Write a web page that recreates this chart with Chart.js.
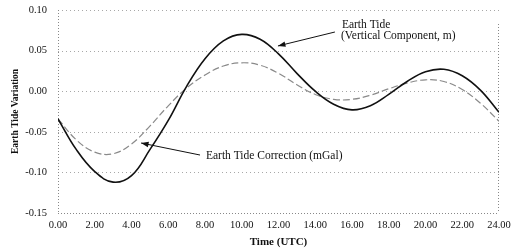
<!DOCTYPE html>
<html>
<head>
<meta charset="utf-8">
<script src="https://cdn.jsdelivr.net/npm/chart.js@4/dist/chart.umd.min.js"></script>
<style>
  html, body { margin: 0; padding: 0; background: #fff; }
  #wrap { width: 518px; height: 249px; position: relative; }
</style>
</head>
<body>
<div id="wrap"><canvas id="c" width="518" height="249"></canvas></div>
<script>
// Time (UTC) in hours
const hours = [0,1,2,3,4,5,6,7,8,9,10,11,12,13,14,15,16,17,18,19,20,21,22,23,24];
// Earth Tide (Vertical Component, m)
const earthTide = [-0.034,-0.072,-0.099,-0.112,-0.104,-0.072,-0.036,0.006,0.040,0.062,0.070,0.064,0.046,0.022,0.000,-0.016,-0.023,-0.018,-0.004,0.012,0.024,0.027,0.019,0.001,-0.026];
// Earth Tide Correction (mGal)
const tideCorrection = [-0.034,-0.060,-0.075,-0.077,-0.065,-0.043,-0.018,0.004,0.020,0.031,0.035,0.032,0.022,0.008,-0.004,-0.010,-0.010,-0.005,0.003,0.010,0.014,0.012,0.002,-0.015,-0.037];
// Axis ticks
const xTicks = [0,2,4,6,8,10,12,14,16,18,20,22,24];
const yTicks = [-0.15,-0.10,-0.05,0.00,0.05,0.10];
// Annotation texts
const labelTide = ["Earth Tide", "(Vertical Component, m)"];
const labelCorr = "Earth Tide Correction (mGal)";

const toXY = (xs, ys) => xs.map((x, i) => ({x: x, y: ys[i]}));
const fmt = v => (Math.abs(v) < 1e-9 ? 0 : v).toFixed(2);

const frame = {
  id: 'frame',
  beforeDatasetsDraw(chart) {
    const {ctx, chartArea: a, scales: {y}} = chart;
    ctx.save();
    ctx.lineWidth = 1;
    // dotted horizontal grid lines
    ctx.strokeStyle = '#a8a8a8';
    ctx.setLineDash([1, 3]);
    ctx.beginPath();
    yTicks.forEach(v => {
      if (v === yTicks[0]) return;
      const py = Math.round(y.getPixelForValue(v)) + 0.5;
      ctx.moveTo(a.left, py); ctx.lineTo(a.right, py);
    });
    ctx.stroke();
    // plot frame
    ctx.strokeStyle = '#888';
    ctx.setLineDash([1, 2]);
    ctx.beginPath();
    ctx.moveTo(a.left + 0.5, a.top); ctx.lineTo(a.left + 0.5, a.bottom);
    ctx.moveTo(a.left, Math.round(a.bottom) + 0.5); ctx.lineTo(a.right, Math.round(a.bottom) + 0.5);
    ctx.moveTo(a.right - 0.5, a.top + 14); ctx.lineTo(a.right - 0.5, a.bottom);
    ctx.stroke();
    ctx.restore();
  }
};

function arrow(ctx, x1, y1, x2, y2) {
  ctx.beginPath();
  ctx.moveTo(x1, y1); ctx.lineTo(x2, y2); ctx.stroke();
  const ang = Math.atan2(y2 - y1, x2 - x1);
  const L = 8, W = 0.35;
  ctx.beginPath();
  ctx.moveTo(x2, y2);
  ctx.lineTo(x2 - L * Math.cos(ang - W), y2 - L * Math.sin(ang - W));
  ctx.lineTo(x2 - L * Math.cos(ang + W), y2 - L * Math.sin(ang + W));
  ctx.closePath();
  ctx.fill();
}

const notes = {
  id: 'notes',
  afterDatasetsDraw(chart) {
    const {ctx, scales: {x, y}} = chart;
    const px = v => x.getPixelForValue(v);
    const py = v => y.getPixelForValue(v);
    ctx.save();
    ctx.fillStyle = '#111';
    ctx.strokeStyle = '#111';
    ctx.lineWidth = 1;
    ctx.font = '11.5px "Liberation Serif", "Times New Roman", serif';
    ctx.textBaseline = 'middle';
    ctx.textAlign = 'left';
    ctx.fillText(labelTide[0], px(15.45), py(0.0815));
    ctx.fillText(labelTide[1], px(15.4), py(0.068));
    arrow(ctx, px(15.07), py(0.0729), px(11.97), py(0.0557));
    ctx.fillText(labelCorr, px(8.05), py(-0.0798));
    arrow(ctx, px(7.73), py(-0.0786), px(4.52), py(-0.0638));
    ctx.restore();
  }
};

new Chart(document.getElementById('c'), {
  type: 'line',
  data: {
    datasets: [
      {
        label: 'Earth Tide (Vertical Component, m)',
        data: toXY(hours, earthTide),
        borderColor: '#111',
        borderWidth: 1.6,
        pointRadius: 0,
        tension: 0.4,
        fill: false
      },
      {
        label: 'Earth Tide Correction (mGal)',
        data: toXY(hours, tideCorrection),
        borderColor: '#8a8a8a',
        borderWidth: 1.2,
        borderDash: [7, 3],
        pointRadius: 0,
        tension: 0.4,
        fill: false
      }
    ]
  },
  options: {
    responsive: false,
    animation: false,
    devicePixelRatio: 1,
    layout: { padding: { left: 0, right: 19, top: 10, bottom: 0 } },
    plugins: { legend: { display: false }, tooltip: { enabled: false } },
    scales: {
      x: {
        type: 'linear',
        min: 0, max: 24,
        afterBuildTicks: s => { s.ticks = xTicks.map(v => ({value: v})); },
        afterFit: s => { s.height = 36; },
        grid: { display: false, drawTicks: false },
        border: { display: false },
        ticks: {
          padding: 6,
          maxRotation: 0,
          color: '#111',
          font: { family: '"Liberation Serif", "Times New Roman", serif', size: 10.5 },
          callback: v => fmt(v)
        },
        title: {
          display: true,
          text: 'Time (UTC)',
          color: '#111',
          padding: { top: 2, bottom: 0 },
          font: { family: '"Liberation Serif", "Times New Roman", serif', size: 11, weight: 'bold' }
        }
      },
      y: {
        min: -0.15, max: 0.10,
        afterBuildTicks: s => { s.ticks = yTicks.map(v => ({value: v})); },
        afterFit: s => { s.width = 58; s.paddingTop = 0; s.paddingBottom = 0; },
        grid: { display: false, drawTicks: false },
        border: { display: false },
        ticks: {
          padding: 11,
          color: '#111',
          font: { family: '"Liberation Serif", "Times New Roman", serif', size: 10.5 },
          callback: v => fmt(v)
        },
        title: {
          display: true,
          text: 'Earth Tide Variation',
          color: '#111',
          padding: { top: 10, bottom: 0 },
          font: { family: '"Liberation Serif", "Times New Roman", serif', size: 9.5, weight: 'bold' }
        }
      }
    }
  },
  plugins: [frame, notes]
});
</script>
</body>
</html>
